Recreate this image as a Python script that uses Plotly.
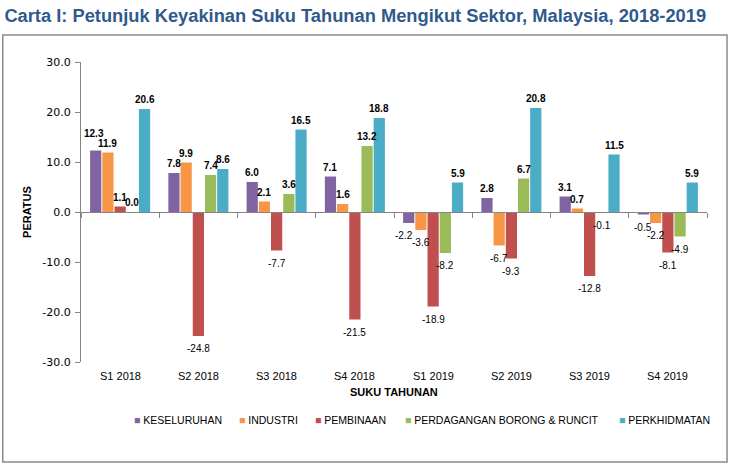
import plotly.graph_objects as go

# Suku tahunan (categories)
quarters = ['S1 2018', 'S2 2018', 'S3 2018', 'S4 2018',
            'S1 2019', 'S2 2019', 'S3 2019', 'S4 2019']

# Peratus per sektor
keseluruhan = [12.3, 7.8, 6.0, 7.1, -2.2, 2.8, 3.1, -0.5]
industri = [11.9, 9.9, 2.1, 1.6, -3.6, -6.7, 0.7, -2.2]
pembinaan = [1.1, -24.8, -7.7, -21.5, -18.9, -9.3, -12.8, -8.1]
perdagangan = [0.0, 7.4, 3.6, 13.2, -8.2, 6.7, -0.1, -4.9]
perkhidmatan = [20.6, 8.6, 16.5, 18.8, 5.9, 20.8, 11.5, 5.9]

y_ticks = [-30, -20, -10, 0, 10, 20, 30]

series = [
    ('KESELURUHAN', keseluruhan, '#8064A2'),
    ('INDUSTRI', industri, '#F79646'),
    ('PEMBINAAN', pembinaan, '#C0504D'),
    ('PERDAGANGAN BORONG & RUNCIT', perdagangan, '#9BBB59'),
    ('PERKHIDMATAN', perkhidmatan, '#4BACC6'),
]

# left edge of each legend entry (paper fraction), as in the Excel legend
legend_x = [0.081, 0.249, 0.370, 0.514, 0.856]

# a few data labels that Excel nudged to keep them apart (px)
label_nudge = {(0, 0): (-2, 8), (0, 4): (-5, 0)}

font = 'Liberation Sans, Arial, sans-serif'
plot_w = 730 - 81 - 23
bargap = 0.22
slot = plot_w / len(quarters) * (1 - bargap) / len(series)

fig = go.Figure()
for i, (name, vals, color) in enumerate(series):
    fig.add_trace(go.Bar(
        x=quarters,
        y=vals,
        name=name,
        marker=dict(color=color, line=dict(width=0)),
        showlegend=False,
        hoverinfo='x+y+name',
    ))
    # data labels: bold above positive bars, plain below negative ones
    for j, (q, v) in enumerate(zip(quarters, vals)):
        dx, dy = label_nudge.get((i, j), (0, 0))
        fig.add_annotation(
            x=q, y=v, xref='x', yref='y', showarrow=False,
            xshift=(i - 2) * slot + dx,
            yshift=(2 if v >= 0 else -5) + dy,
            yanchor='bottom' if v >= 0 else 'top',
            text='<b>%.1f</b>' % v if v >= 0 else '%.1f' % v,
            font=dict(family=font, size=10, color='#000000'),
        )

# category labels below the plot (the x axis line sits at zero)
for q in quarters:
    fig.add_annotation(x=q, y=0, xref='x', yref='paper', yanchor='top',
                       yshift=-6, text=q, showarrow=False,
                       font=dict(family=font, size=11, color='#000000'))

fig.add_annotation(x=0.5, y=0, xref='paper', yref='paper', yanchor='top',
                   yshift=-22, text='<b>SUKU TAHUNAN</b>', showarrow=False,
                   font=dict(family=font, size=11, color='#000000'))

# legend, one row like the original
for (name, vals, color), lx in zip(series, legend_x):
    fig.add_annotation(x=lx, y=-0.193, xref='paper', yref='paper',
                       xanchor='left', yanchor='middle', showarrow=False,
                       text='<span style="color:%s">■</span> %s' % (color, name),
                       font=dict(family=font, size=10.5, color='#000000'))

# outer chart border
fig.add_shape(type='rect', xref='paper', yref='paper',
              x0=-0.125, x1=1.032, y0=-0.333, y1=1.09,
              line=dict(color='#8C8C8C', width=1.5), layer='below')

fig.update_layout(
    width=730, height=466,
    margin=dict(l=81, r=23, t=62, b=104, autoexpand=False),
    paper_bgcolor='white',
    plot_bgcolor='white',
    barmode='group',
    bargap=bargap,
    bargroupgap=0.08,
    showlegend=False,
    title=dict(
        text='<b>Carta I: Petunjuk Keyakinan Suku Tahunan Mengikut Sektor, Malaysia, 2018-2019</b>',
        x=0.006, xanchor='left', xref='container',
        y=0.966, yanchor='middle', yref='container',
        font=dict(family=font, size=18.3, color='#2F5A8C'),
    ),
    xaxis=dict(
        type='category',
        anchor='free', position=0.5,
        showline=True, linecolor='#868686', linewidth=1,
        ticks='outside', tickson='boundaries', ticklen=5, tickcolor='#868686',
        showticklabels=False, showgrid=False, zeroline=False,
    ),
    yaxis=dict(
        range=[-30, 30],
        tickvals=y_ticks,
        ticktext=['%.1f' % t for t in y_ticks],
        showline=True, linecolor='#868686', linewidth=1,
        ticks='outside', ticklen=5, tickcolor='#868686',
        ticklabelstandoff=2,
        showgrid=False, zeroline=False, automargin=False,
        tickfont=dict(family='DejaVu Sans, Verdana, sans-serif', size=11, color='#000000'),
        title=dict(text='<b>PERATUS</b>', standoff=8,
                   font=dict(family=font, size=11, color='#000000')),
    ),
)

# drop the default 8px page margin so the figure sits at the window corner
fig.write_html("out.html", config={'displayModeBar': False},
               post_script="document.body.style.margin='0';")
